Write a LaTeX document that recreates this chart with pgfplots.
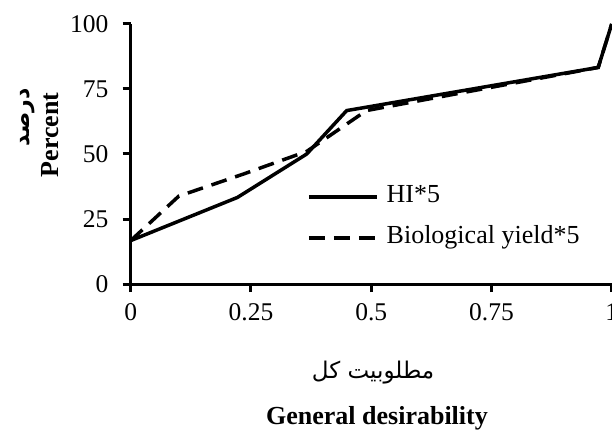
\documentclass[border=0pt]{standalone}
\usepackage{pgfplots}
\pgfplotsset{compat=1.18}
\usepackage{fontspec}
\setmainfont{Liberation Serif}
\newfontfamily\arabicfont[Script=Arabic]{DejaVu Sans}
\TeXXeTstate=1
\begin{document}
\begin{tikzpicture}
\begin{axis}[
  scale only axis, width=481bp, height=260bp,
  xmin=0, xmax=1, ymin=0, ymax=100,
  axis lines*=left,
  axis line style={line width=3bp, black},
  xtick={0,0.25,0.5,0.75,1}, ytick={0,25,50,75,100},
  tick align=outside, major tick length=8bp,
  tick style={line width=3bp, black},
  /pgf/number format/assume math mode=true,
  ticklabel style={font=\fontsize{25.5bp}{30bp}\selectfont, inner sep=0pt},
  yticklabel style={xshift=-14bp},
  xticklabel style={yshift=-11bp},
  clip=false,
  legend style={at={(axis description cs:0.3665,0.256)}, anchor=west,
    draw=none, fill=none, inner sep=0pt, row sep=17bp, column sep=8bp,
    nodes={inner sep=0pt, text height=18bp, text depth=6bp, anchor=west,
      font=\fontsize{26bp}{30bp}\selectfont}},
  legend cell align=left,
  legend image code/.code={\draw[#1] (0bp,0bp) -- (68bp,0bp);},
]
\addplot[black, line width=3.5bp] coordinates {
  (0,16.7) (0.222,33.3) (0.366,50) (0.449,66.7) (0.972,83.3) (1,100)};
\addlegendentry{HI*5}
\addplot[black, line width=3.5bp, dash pattern=on 16bp off 9bp] coordinates {
  (0,16.7) (0.10,33.8) (0.233,42.2) (0.366,51) (0.49,66.7) (0.972,83.3) (1,100)};
\addlegendentry{Biological yield*5}
\node[rotate=90, font=\bfseries\fontsize{26bp}{30bp}\selectfont, anchor=center]
  at (axis description cs:-0.168,0.573) {Percent};
\node[rotate=90, font=\arabicfont\bfseries\fontsize{22bp}{26bp}\selectfont, anchor=center]
  at (axis description cs:-0.2135,0.642) {\beginR درصد\endR};
\node[font=\arabicfont\fontsize{23bp}{27bp}\selectfont, anchor=center]
  at (axis description cs:0.504,-0.342) {\beginR مطلوبیت کل\endR};
\node[font=\bfseries\fontsize{26bp}{30bp}\selectfont, anchor=center]
  at (axis description cs:0.512,-0.515) {General desirability};
\end{axis}
\pgfresetboundingbox
\path[use as bounding box] (-130.7bp,-146bp) rectangle (481.3bp,284bp);
\end{tikzpicture}
\end{document}
